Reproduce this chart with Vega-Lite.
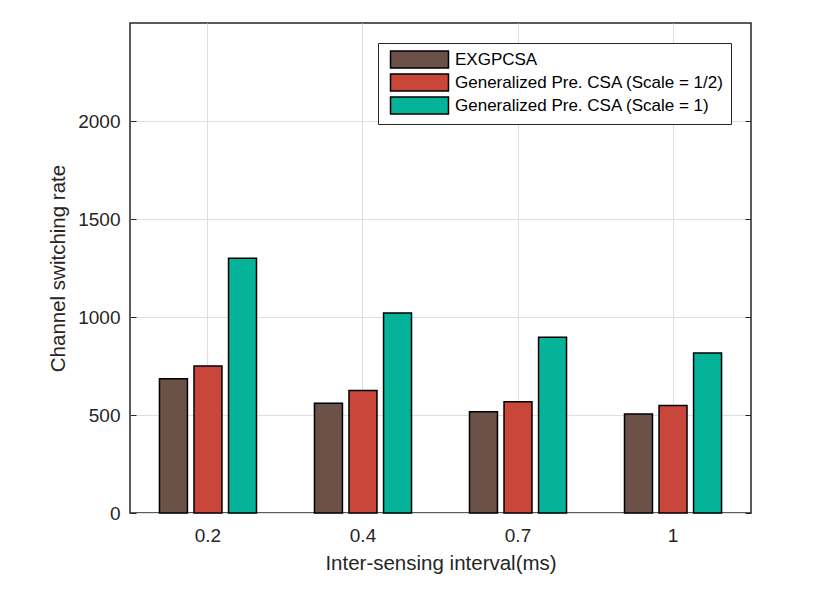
{
  "$schema": "https://vega.github.io/schema/vega-lite/v6.json",
  "width": 621,
  "height": 490,
  "autosize": {"type": "none"},
  "padding": {"left": 130, "top": 23, "right": 85, "bottom": 88},
  "background": "white",
  "config": {"font": "Liberation Sans", "view": {"stroke": "#262626", "strokeWidth": 1.5}},
  "data": {
    "values": [
      {"interval": "0.2", "method": "EXGPCSA", "rate": 685},
      {"interval": "0.2", "method": "Generalized Pre. CSA (Scale = 1/2)", "rate": 750},
      {"interval": "0.2", "method": "Generalized Pre. CSA (Scale = 1)", "rate": 1300},
      {"interval": "0.4", "method": "EXGPCSA", "rate": 560},
      {"interval": "0.4", "method": "Generalized Pre. CSA (Scale = 1/2)", "rate": 625},
      {"interval": "0.4", "method": "Generalized Pre. CSA (Scale = 1)", "rate": 1020},
      {"interval": "0.7", "method": "EXGPCSA", "rate": 516},
      {"interval": "0.7", "method": "Generalized Pre. CSA (Scale = 1/2)", "rate": 568},
      {"interval": "0.7", "method": "Generalized Pre. CSA (Scale = 1)", "rate": 897},
      {"interval": "1", "method": "EXGPCSA", "rate": 505},
      {"interval": "1", "method": "Generalized Pre. CSA (Scale = 1/2)", "rate": 548},
      {"interval": "1", "method": "Generalized Pre. CSA (Scale = 1)", "rate": 816}
    ]
  },
  "layer": [
    {
      "mark": {"type": "bar", "stroke": "black", "strokeWidth": 1.5},
      "encoding": {
        "x": {
          "field": "interval", "type": "ordinal", "sort": ["0.2", "0.4", "0.7", "1"],
          "scale": {"paddingInner": 0.374, "paddingOuter": 0.19},
          "axis": {
            "title": "Inter-sensing interval(ms)", "labelAngle": 0, "bandPosition": 0.5,
            "grid": true, "gridColor": "#dfdfdf", "gridWidth": 1, "ticks": false, "domain": false,
            "labelFontSize": 19, "labelColor": "#262626", "labelPadding": 13,
            "titleFontSize": 20.5, "titleFontWeight": "normal", "titleColor": "#262626", "titlePadding": 8
          }
        },
        "xOffset": {
          "field": "method", "type": "nominal",
          "sort": ["EXGPCSA", "Generalized Pre. CSA (Scale = 1/2)", "Generalized Pre. CSA (Scale = 1)"],
          "scale": {"paddingInner": 0.19, "paddingOuter": 0}
        },
        "y": {
          "field": "rate", "type": "quantitative",
          "scale": {"domain": [0, 2500], "nice": false},
          "axis": {
            "values": [0, 500, 1000, 1500, 2000], "format": "d", "title": "Channel switching rate",
            "grid": true, "gridColor": "#dfdfdf", "gridWidth": 1, "domain": false,
            "tickSize": -6, "tickColor": "#262626", "tickWidth": 1,
            "labelFontSize": 19, "labelColor": "#262626", "labelPadding": 16,
            "titleFontSize": 20.5, "titleFontWeight": "normal", "titleColor": "#262626", "titlePadding": 9
          }
        },
        "color": {
          "field": "method", "type": "nominal",
          "scale": {
            "domain": ["EXGPCSA", "Generalized Pre. CSA (Scale = 1/2)", "Generalized Pre. CSA (Scale = 1)"],
            "range": ["#6b5147", "#c9473a", "#05b39b"]
          },
          "legend": {
            "orient": "none", "legendX": 248, "legendY": 20, "title": null,
            "symbolType": "M-3.41,-1H3.41V1H-3.41Z", "symbolSize": 289,
            "symbolStrokeColor": "black", "symbolStrokeWidth": 1.5, "symbolOpacity": 1,
            "labelFontSize": 17, "labelColor": "black", "labelLimit": 400,
            "rowPadding": 0, "strokeColor": "#262626", "fillColor": "white",
            "padding": 7, "labelOffset": 26, "symbolOffset": 25, "cornerRadius": 0
          }
        }
      }
    },
    {
      "mark": {"type": "bar", "opacity": 0},
      "encoding": {
        "x": {"field": "interval", "type": "ordinal", "sort": ["0.2", "0.4", "0.7", "1"]},
        "xOffset": {
          "field": "method", "type": "nominal",
          "sort": ["EXGPCSA", "Generalized Pre. CSA (Scale = 1/2)", "Generalized Pre. CSA (Scale = 1)"]
        },
        "y": {
          "field": "rate", "type": "quantitative",
          "axis": {
            "orient": "right", "values": [0, 500, 1000, 1500, 2000], "title": null,
            "labels": false, "grid": false, "domain": false,
            "tickSize": -6, "tickColor": "#262626", "tickWidth": 1
          }
        }
      }
    }
  ],
  "resolve": {"axis": {"y": "independent"}}
}
